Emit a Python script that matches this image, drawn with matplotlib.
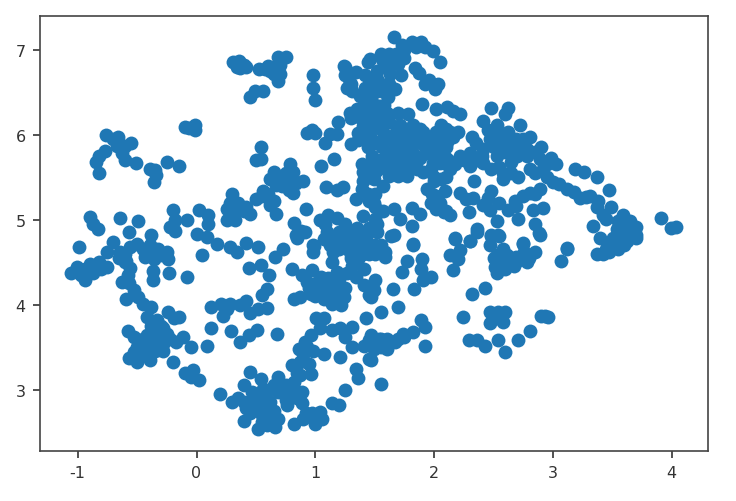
import matplotlib
matplotlib.use("Agg")
import matplotlib.pyplot as plt

W, H = 736, 502

# (x, y) values grouped by cluster
far_left = [(-1.06,4.37),(-1.01,4.44),(-1.0,4.39),(-0.94,4.29),(-0.94,4.42),(-0.9,4.48),(-0.87,4.37),(-0.82,4.5),(-0.75,4.44),(-0.99,4.68),
 (-0.9,5.03),(-0.87,4.95),(-0.83,4.89),(-0.64,5.02),(-0.49,4.98),(-0.57,4.86),
 (-0.7,4.74),(-0.75,4.62),(-0.64,4.62),(-0.59,4.52),(-0.56,4.43),(-0.63,4.27),(-0.57,4.25),(-0.59,4.07),(-0.49,4.09),(-0.45,4.01),(-0.53,4.17),
 (-0.5,4.72),(-0.43,4.56),(-0.39,4.7),(-0.38,4.82),(-0.32,4.66),(-0.25,4.62),(-0.24,4.54),(-0.36,4.54),(-0.56,4.68),(-0.6,4.6),
 (-0.37,4.4),(-0.37,4.29),(-0.23,4.37),(-0.08,4.32),(0.05,4.58),(0.17,4.72),
 (-0.6,4.5),(-0.65,4.55),(-0.58,4.35),(-0.4,4.62),(-0.35,4.65),(-0.3,4.58),(-0.45,4.65),(-0.97,4.35),(-0.9,4.42),(-0.85,4.45),(-0.8,4.42)]
top_left = [(-0.76,6.0),(-0.7,5.95),(-0.66,5.97),(-0.55,5.9),(-0.6,5.87),(-0.67,5.87),(-0.77,5.81),(-0.82,5.75),(-0.85,5.68),(-0.82,5.55),
 (-0.6,5.7),(-0.63,5.78),(-0.51,5.67),(-0.39,5.6),(-0.35,5.58),(-0.36,5.44),(-0.34,5.53),(-0.25,5.68),(-0.15,5.63),
 (-0.1,6.09),(-0.01,6.11),(-0.01,6.05),(-0.06,6.08),
 (-0.2,5.11),(0.02,5.11),(-0.18,5.0),(-0.08,5.0),(-0.22,4.92),(-0.18,4.87),(0.0,4.83)]
top_mid = [(0.31,6.85),(0.36,6.87),(0.4,6.82),(0.37,6.78),(0.42,6.8),(0.34,6.8),(0.37,6.84),
 (0.69,6.92),(0.75,6.92),(0.7,6.82),(0.64,6.76),(0.58,6.77),(0.53,6.77),(0.6,6.81),(0.65,6.71),(0.69,6.63),(0.66,6.8),(0.62,6.75),(0.7,6.72),
 (0.45,6.44),(0.49,6.52),(0.56,6.51),(0.54,5.86),(0.5,5.7),(0.54,5.72),
 (0.98,6.7),(0.98,6.55),(1.0,6.41)]
mid = [(0.65,5.56),(0.79,5.66),(0.62,5.48),(0.7,5.48),(0.81,5.56),(0.9,5.45),(0.81,5.31),(0.76,5.45),(0.67,5.41),(0.84,5.43),(0.56,5.34),(0.5,5.24),
 (0.65,5.22),(0.62,5.17),(0.67,5.07),(0.3,5.3),(0.35,5.2),(0.26,5.13),(0.26,5.0),(0.35,5.12),(0.3,5.05),(0.45,5.07),(0.42,5.15),(0.1,5.05),(0.1,4.95),(0.09,4.8),(0.92,5.13),
 (0.28,5.2),(0.33,5.1),(0.38,5.15),(0.32,5.0),(0.4,5.1),(0.55,5.28),(0.6,5.3),(0.65,5.5),(0.72,5.52),(0.75,5.55),(0.8,5.4),(0.72,5.4),(0.78,5.35),
 (1.05,5.63),(1.16,5.72),(1.08,5.9),(0.93,6.02),(0.97,6.06),(1.0,6.02),(1.12,6.01),(1.18,6.01),(1.19,6.15),(1.29,6.25),(1.37,6.21),
 (1.24,6.81),(1.27,6.73),(1.34,6.74),(1.28,6.66),(1.27,6.55),(1.31,6.51),(1.42,6.55),(1.41,6.43),(1.44,6.85),
 (1.3,6.2),(1.4,6.3),(1.45,6.4),(1.5,6.35),(1.35,6.3),(1.25,6.7),(1.3,6.6),(1.42,6.45),(1.25,6.8),
 (1.36,6.02),(1.3,5.89),(1.36,5.94),(1.44,5.86),(1.45,5.94),
 (1.39,5.65),(1.4,5.56),(1.4,5.46),(1.39,5.36),(1.34,5.24),(1.09,5.38),(1.18,5.35),(1.23,5.39),(1.45,5.22),(1.5,5.56),
 (0.82,4.96),(0.88,4.87),(0.85,4.79),(0.99,4.69),(1.04,5.0),(1.11,5.05),(1.18,5.02),(1.08,4.95),(1.25,4.95),(1.4,5.04),
 (1.07,4.77),(1.18,4.77),(1.29,4.77),(1.12,4.7),(1.27,4.89),(1.41,4.85),(1.42,4.77),(1.35,4.7),(1.2,4.85),(1.33,4.85),
 (1.3,4.7),(1.4,4.6),(1.35,4.9),(1.45,4.6),(1.3,4.55),(1.25,4.85),(1.2,4.65),(1.1,4.85),(1.15,4.62),(1.45,4.9),(1.52,4.95),(1.55,4.7)]
low_left = [(-0.38,3.97),(-0.42,3.86),(-0.24,3.92),(-0.15,3.86),(-0.19,3.84),(-0.33,3.82),(-0.58,3.69),(-0.53,3.62),(-0.47,3.56),(-0.42,3.64),(-0.33,3.64),(-0.28,3.72),
 (-0.22,3.6),(-0.11,3.62),(-0.05,3.5),(-0.28,3.54),(-0.36,3.52),(-0.57,3.37),(-0.5,3.33),(-0.39,3.35),(-0.45,3.42),(-0.53,3.44),(-0.28,3.46),(-0.2,3.33),(-0.17,3.56),
 (-0.5,3.5),(-0.4,3.55),(-0.35,3.6),(-0.3,3.6),(-0.45,3.6),(-0.35,3.45),(-0.25,3.65),(-0.42,3.48),(-0.3,3.75),(-0.38,3.75),
 (0.09,3.52),(0.12,3.73),(0.29,3.69),(0.37,3.56),(0.44,3.64),(0.51,3.7),(0.68,3.66),
 (-0.1,3.2),(-0.03,3.23),(0.02,3.11),(-0.05,3.15),
 (0.28,4.68),(0.34,4.62),(0.42,4.73),(0.52,4.68),(0.66,4.56),(0.73,4.65),(0.44,4.43),(0.54,4.47),(0.61,4.35),(0.59,4.19),(0.55,4.11),(0.59,3.96),(0.42,4.04),(0.45,3.9),(0.52,3.95),(0.37,4.0),
 (0.12,3.97),(0.21,4.01),(0.28,4.01),(0.22,3.87),(0.26,3.95)]
bottom = [(0.2,2.95),(0.3,2.86),(0.4,3.05),(0.45,3.21),(0.54,3.13),(0.4,2.86),(0.35,2.9),(0.47,2.97),(0.4,2.63),(0.51,2.76),(0.45,2.72),(0.52,2.54),(0.59,2.58),(0.66,2.56),(0.62,2.7),(0.69,2.66),
 (0.56,3.01),(0.62,2.86),(0.69,3.15),(0.69,2.97),(0.76,2.93),(0.82,3.01),(0.89,2.97),(0.89,2.84),(0.76,2.82),(0.82,2.6),(0.9,2.66),(1.0,2.6),(1.04,2.74),(0.97,2.72),(1.06,2.66),(1.14,2.84),(1.2,2.82),(1.25,3.0),
 (0.55,2.62),(0.6,2.65),(0.65,2.62),(0.55,2.7),(0.5,2.85),(0.6,2.75),(0.65,2.75),(0.55,2.88),(0.6,3.0),(0.65,3.05),(0.75,3.05),(0.8,2.95),(0.85,2.9),(0.75,2.88),(0.85,3.2),(0.9,3.35),(0.95,3.3),(1.0,2.65),(0.92,2.72),(0.46,2.85),(0.42,2.78),(0.5,2.92),(0.9,3.42),(0.93,3.5),
 (0.8,3.29),(0.87,3.33),(0.96,3.19),(0.87,3.17),(0.82,3.09),(0.86,3.48),(0.91,3.56),(0.98,3.46),(1.07,3.42),(0.96,3.64),(1.04,3.72),(1.01,3.84),(1.07,3.84),(1.14,3.7),(1.21,3.72),(1.31,3.74),(1.25,3.62),(1.31,3.5),(1.41,3.52),(1.21,3.39),(1.34,3.24),(1.36,3.14),(1.43,3.84),(1.45,3.36)]
center = [(0.82,4.07),(0.87,4.09),(0.96,4.13),(1.04,4.19),(1.13,4.19),(1.21,4.11),(1.22,4.0),(1.14,4.01),(1.07,4.07),(1.01,4.25),(0.93,4.27),(0.89,4.35),(0.8,4.42),(0.97,4.41),(1.14,4.5),(1.18,4.39),(1.11,4.31),(1.27,4.37),(1.24,4.09),(1.17,4.25),(1.07,4.25),
 (0.95,4.2),(1.0,4.1),(1.1,4.1),(1.18,4.18),(1.05,4.32),(1.12,4.15),(1.25,4.2),(1.2,4.3),
 (0.98,4.7),(0.98,4.62),(0.84,4.82),(0.91,4.86),(1.14,4.74),(1.27,4.74),(1.21,4.8),(1.29,4.62),(1.36,4.54),(1.31,4.46),(1.41,4.42),(1.41,4.66),(1.41,4.23),(1.45,4.11),(1.34,4.33),(1.43,4.78),(1.35,4.86),
 (1.5,4.7),(1.59,4.62),(1.59,4.56),(1.5,4.6),(1.66,4.82),(1.82,4.7),(1.77,4.52),(1.73,4.39),(1.9,4.54),(1.89,4.42),(1.97,4.33),(1.91,4.29),(1.83,4.18),(1.65,4.18),(1.5,4.29),(1.49,4.17),(1.47,4.09),(1.7,3.97),(1.55,3.92),
 (1.89,3.82),(1.92,3.74),(1.82,3.68),(1.74,3.66),(1.67,3.56),(1.6,3.6),(1.54,3.6),(1.6,3.48),(1.53,3.52),(1.92,3.52),(1.47,3.35),(1.55,3.07),(1.47,3.64),(1.49,3.48),
 (1.55,3.6),(1.6,3.55),(1.7,3.6),(1.45,3.58),(1.5,3.55),(1.75,3.62),(1.55,3.5)]
right_low = [(2.18,4.78),(2.3,4.75),(2.22,4.64),(2.13,4.58),(2.2,4.54),(2.16,4.41),(2.36,4.86),(2.43,4.2),(2.32,4.13),(2.24,3.86),
 (2.47,3.91),(2.6,3.91),(2.47,3.78),(2.58,3.8),(2.54,3.91),(2.53,3.84),
 (2.29,3.59),(2.36,3.58),(2.43,3.52),(2.54,3.58),(2.6,3.44),(2.71,3.59),(2.81,3.69),(2.9,3.87),(2.96,3.86),(2.93,3.87),
 (3.12,4.65),(3.07,4.51),(3.37,4.6),(3.47,4.62),(3.54,4.68),(3.62,4.82),(3.7,4.82),(3.59,4.86),(3.51,4.78),
 (2.48,4.82),(2.54,4.82),(2.47,4.7),(2.53,4.58),(2.53,4.37),(2.51,4.44),(2.61,4.58),(2.6,4.42),(2.69,4.56),(2.67,4.46),(2.75,4.72),(2.78,4.5),(2.85,4.62),(2.76,4.62),(2.88,4.84),
 (2.55,4.5),(2.6,4.5),(2.65,4.55),(2.7,4.52),(2.58,4.65),(2.5,4.55),(2.75,4.55),(2.8,4.55)]
upper_center = [(1.66,7.15),(1.73,7.05),(1.81,7.09),(1.89,7.09),(1.99,6.99),(2.05,6.86),(1.87,6.73),(1.92,6.6),(2.03,6.6),(2.01,6.54),(1.96,6.64),(1.84,6.79),(1.68,6.95),(1.57,6.87),(1.7,6.83),(1.63,6.71),(1.52,6.75),(1.46,6.89),
 (1.67,6.54),(1.6,6.58),(1.52,6.66),(1.61,6.44),(1.54,6.34),(1.46,6.44),(1.46,6.3),
 (1.9,6.36),(2.02,6.3),(2.11,6.33),(2.22,6.24),(2.16,6.28),(1.78,6.24),(1.7,6.26),(1.6,6.26),(1.5,6.18),(1.49,6.15),
 (1.71,6.11),(1.82,6.11),(2.06,6.11),
 (1.57,6.03),(1.68,6.03),(1.8,6.03),(1.91,6.03),(2.02,6.03),(2.13,6.03),(2.2,6.03),
 (1.54,5.91),(1.66,5.91),(1.77,5.91),(1.88,5.91),(1.99,5.91),(2.11,5.91),
 (1.6,5.79),(1.71,5.79),(1.82,5.79),(1.94,5.79),(2.05,5.79),
 (1.63,5.67),(1.74,5.67),(1.85,5.67),(1.99,5.67),(2.08,5.67),
 (1.62,5.52),(1.7,5.52),(1.77,5.52),(1.46,5.98),(1.47,5.67),(1.49,5.48),(1.5,5.3),
 (1.6,5.97),(1.72,5.97),(1.83,5.97),(1.94,5.97),(2.05,5.97),(2.16,5.97),
 (1.56,5.85),(1.68,5.85),(1.8,5.85),(1.92,5.85),(2.03,5.85),(2.1,5.85),
 (1.58,5.73),(1.66,5.73),(1.77,5.73),(1.88,5.73),(2.0,5.73),(2.1,5.73),
 (1.6,5.6),(1.7,5.6),(1.8,5.6),(1.86,5.6),(1.76,6.07),(1.88,6.07),(2.1,6.07),
 (1.5,6.25),(1.55,6.15),(1.62,6.15),(1.48,6.08),(1.58,6.35),(1.45,6.6),(1.5,6.5),(1.58,6.5),(1.55,6.6),(1.62,6.6),(1.72,6.7),(1.75,6.9),(1.65,6.85),(1.6,6.8),(1.55,6.95),(1.62,6.95),(1.85,7.03),(1.92,7.03),(1.75,7.0),(1.42,6.7),(1.38,6.45),(1.45,6.2),(1.4,6.1),(1.5,5.9),(1.48,5.75),(1.55,5.7),(1.52,5.58),(1.45,5.5),(1.57,5.4),(1.5,5.15),(1.44,5.3)]
upper_right = [(2.48,6.32),(2.62,6.32),(2.6,6.24),(2.41,6.16),(2.72,6.12),(2.32,5.97),(2.81,5.97),(2.9,5.85),(2.98,5.73),(3.03,5.65),(2.53,6.11),(2.62,6.03),(2.47,5.95),(2.58,5.91),(2.69,5.95),(2.78,5.83),(2.41,5.83),(2.3,5.79),(2.22,5.75),(2.53,5.75),(2.89,5.71),(2.69,5.83),(2.81,5.6),(2.41,5.67),(2.3,5.63),(2.55,5.62),(2.58,5.48),(2.71,5.5),(2.78,5.75),(2.92,5.6),(2.34,5.45),(2.65,5.68),
 (2.35,5.9),(2.45,6.05),(2.55,6.0),(2.5,5.85),(2.6,5.8),(2.7,5.75),(2.75,5.95),(2.65,5.9),(2.4,5.75),(2.35,5.7),(2.48,5.6),(2.58,5.55),(2.65,5.55),(2.85,5.8),(2.95,5.65),(2.85,5.55),(2.95,5.5),(3.05,5.42),(3.18,5.33),(3.28,5.27),(3.38,5.22),(2.25,5.7),(2.18,5.65),(2.12,5.7),(2.1,5.5),(2.0,5.45),(1.98,5.3),(2.05,5.2),(2.1,5.1),(2.0,5.5),(2.85,5.3),(2.75,5.28),(2.68,5.22),(2.55,5.2),(2.45,5.25),(3.42,5.05),(3.55,4.98),(3.65,4.98),(3.6,4.7),(3.55,4.65),(3.45,4.65),(3.42,4.6),(3.62,4.75),
 (2.13,5.6),(2.05,5.67),(1.97,5.6),(1.91,5.56),(2.06,5.48),(1.94,5.36),(2.02,5.28),(2.09,5.34),(1.97,5.2),(2.02,5.13),(2.13,5.05),(2.08,5.09),(1.81,5.14),(1.81,4.93),(1.88,5.07),(1.71,5.01),(1.66,5.13),(1.57,5.1),(1.5,5.01),(1.64,4.81),(1.52,4.85),(1.82,4.71),(1.49,5.2),
 (2.22,5.32),(2.27,5.24),(2.33,5.26),(2.29,5.09),(2.48,5.34),(2.41,5.17),(2.47,5.11),(2.53,4.99),(2.62,5.12),(2.71,5.01),(2.69,5.16),(2.81,5.32),(2.89,5.36),(3.0,5.44),(3.12,5.36),(3.23,5.26),(3.31,5.28),(3.37,5.15),(3.47,5.35),
 (3.19,5.6),(3.26,5.56),(3.37,5.5),(2.83,5.12),(2.92,5.14),(2.85,4.95),(2.89,4.82),(2.36,4.89),(2.3,4.75),(2.18,4.77),(2.48,4.81),(2.55,4.81),(2.75,4.73),(3.12,4.67),
 (3.49,5.15),(3.59,5.05),(3.45,5.01),(3.34,4.93),(3.4,4.79),(3.54,4.89),(3.7,4.91),(3.7,4.79),(3.62,4.93),(3.56,4.77),(3.48,4.73),(3.65,4.85),
 (3.91,5.02),(3.99,4.9),(4.04,4.91)]

groups = [far_left, top_left, top_mid, mid, low_left, bottom, center, right_low, upper_center, upper_right]
xs = [p[0] for g in groups for p in g]
ys = [p[1] for g in groups for p in g]

fig = plt.figure(figsize=(W/100, H/100), dpi=100, facecolor="white")
left, right, top, bottom_px = 39.5, 708, 17, 452
ax = fig.add_axes([left/W, 1-bottom_px/H, (right-left)/W, (bottom_px-top)/H])
ax.scatter(xs, ys, s=100, color="#1f77b4", linewidths=0)
ax.set_xlim((left-196.5)/118.8, (right-196.5)/118.8)
ax.set_ylim(7-(bottom_px-50.7)/85, 7-(top-50.7)/85)
ax.set_xticks([-1,0,1,2,3,4])
ax.set_xticklabels(["-1","0","1","2","3","4"])
ax.set_yticks([3,4,5,6,7])
ax.tick_params(labelsize=11.5, colors="#333333", length=5, width=1.2, pad=5)
for s in ax.spines.values():
    s.set_linewidth(1.2)
    s.set_color("#444444")
fig.savefig("out.png", dpi=100)
